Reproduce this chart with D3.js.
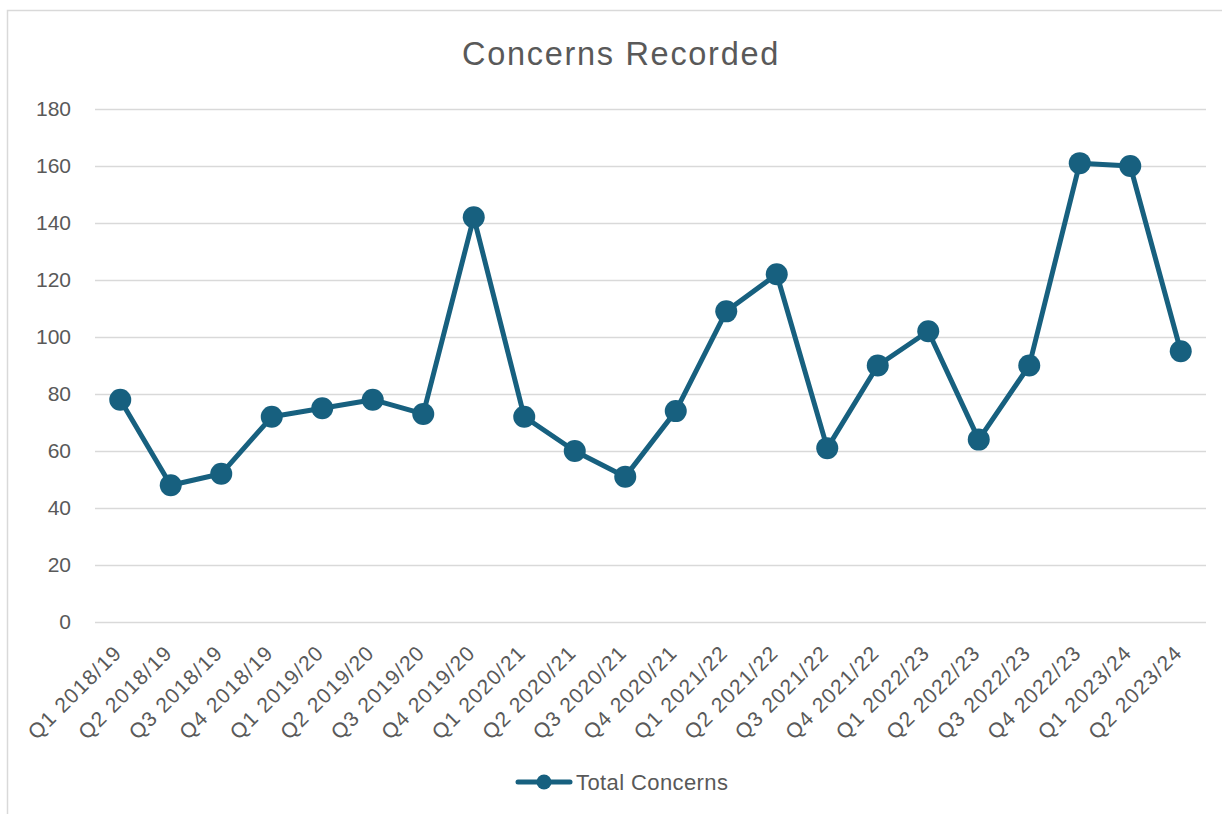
<!DOCTYPE html>
<html>
<head>
<meta charset="utf-8">
<script src="https://cdn.jsdelivr.net/npm/d3@7"></script>
<style>
  html, body { margin: 0; padding: 0; background: #fff; overflow: hidden; }
  svg { display: block; font-family: "Liberation Sans", Arial, sans-serif; }
</style>
</head>
<body>
<svg id="chart" width="1222" height="814"></svg>
<script>
const categories = ["Q1 2018/19","Q2 2018/19","Q3 2018/19","Q4 2018/19","Q1 2019/20","Q2 2019/20","Q3 2019/20","Q4 2019/20","Q1 2020/21","Q2 2020/21","Q3 2020/21","Q4 2020/21","Q1 2021/22","Q2 2021/22","Q3 2021/22","Q4 2021/22","Q1 2022/23","Q2 2022/23","Q3 2022/23","Q4 2022/23","Q1 2023/24","Q2 2023/24"];
const totalConcerns = [78,48,52,72,75,78,73,142,72,60,51,74,109,122,61,90,102,64,90,161,160,95];
const yTicks = [0,20,40,60,80,100,120,140,160,180];
const seriesName = "Total Concerns";
const chartTitle = "Concerns Recorded";

(function () {
const svg = d3.select("#chart");
const color = "#17607f";
const textColor = "#595959";
const font = "\"Liberation Sans\", Arial, sans-serif";

svg.append("rect").attr("x", 7.5).attr("y", 10.5).attr("width", 1240).attr("height", 830)
  .attr("fill", "#fff").attr("stroke", "#d9d9d9").attr("stroke-width", 1.5);

const pLeft = 95, pRight = 1206, pTop = 109, pBottom = 622;
const x = d3.scaleBand().domain(categories).range([pLeft, pRight]);
const y = d3.scaleLinear().domain([0, 180]).range([pBottom, pTop]);

svg.append("text").attr("x", 621).attr("y", 64.5).attr("text-anchor", "middle")
  .attr("font-size", 32.5).attr("letter-spacing", 1.7).attr("fill", textColor).text(chartTitle);

const yAxis = d3.axisLeft(y).tickValues(yTicks).tickSize(-(pRight - pLeft)).tickFormat(d3.format("d"));
const gy = svg.append("g").attr("transform", `translate(${pLeft},0)`).call(yAxis);
gy.select(".domain").remove();
gy.selectAll(".tick line").attr("stroke", "#d9d9d9").attr("stroke-width", 1.5);
gy.selectAll(".tick text").attr("x", -24).attr("font-size", 21).attr("fill", textColor)
  .attr("font-family", font);

const xAxis = d3.axisBottom(x).tickSize(0);
const gx = svg.append("g").attr("transform", `translate(0,${pBottom})`).call(xAxis);
gx.select(".domain").remove();
gx.selectAll(".tick text")
  .attr("font-size", 21).attr("letter-spacing", 1.3).attr("fill", textColor).attr("font-family", font)
  .attr("text-anchor", "end").attr("dy", 0)
  .attr("transform", "translate(3,32) rotate(-45)")
  .attr("x", 0).attr("y", 0);

const line = d3.line().x((d, i) => x(categories[i]) + x.bandwidth() / 2).y(d => y(d));
svg.append("path").datum(totalConcerns).attr("d", line).attr("fill", "none")
  .attr("stroke", color).attr("stroke-width", 5).attr("stroke-linejoin", "round");
svg.selectAll("circle.pt").data(totalConcerns).join("circle").attr("class", "pt")
  .attr("cx", (d, i) => x(categories[i]) + x.bandwidth() / 2).attr("cy", d => y(d))
  .attr("r", 11).attr("fill", color);

const lg = svg.append("g");
lg.append("line").attr("x1", 518).attr("x2", 570).attr("y1", 782).attr("y2", 782)
  .attr("stroke", color).attr("stroke-width", 5).attr("stroke-linecap", "round");
lg.append("circle").attr("cx", 544).attr("cy", 782).attr("r", 7.5).attr("fill", color);
lg.append("text").attr("x", 576).attr("y", 790).attr("font-size", 22).attr("letter-spacing", 0.4)
  .attr("fill", textColor).text(seriesName);
})();
</script>
</body>
</html>
